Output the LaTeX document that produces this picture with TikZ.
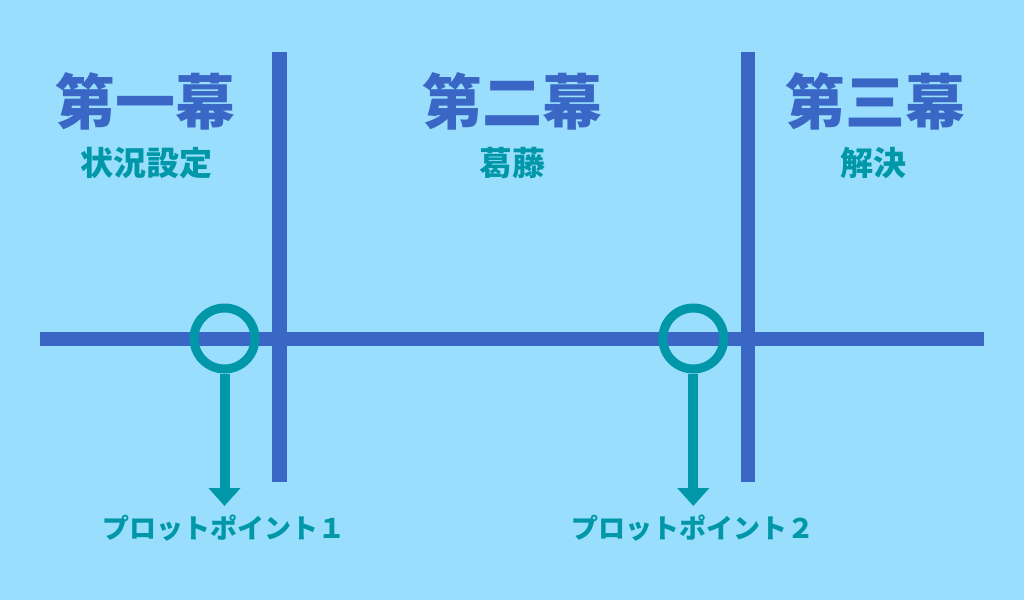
\documentclass[tikz,border=0pt]{standalone}
\usepackage{fontspec}
\setmainfont{Noto Sans CJK JP}[BoldFont={Noto Sans CJK JP Black}]
\usetikzlibrary{arrows.meta}
\definecolor{bgc}{HTML}{99DFFD}
\definecolor{lineblue}{HTML}{3A67C6}
\definecolor{tealc}{HTML}{0098A9}
\begin{document}
\begin{tikzpicture}[x=1pt,y=-1pt,
  axis/.style={draw=lineblue,line width=14.5pt},
  pp/.style={circle,draw=tealc,line width=9pt,minimum size=61pt,inner sep=0pt},
  stem/.style={draw=tealc,line width=10pt,-{Triangle[width=31pt,length=18pt]}},
  act/.style={font=\bfseries\fontsize{60}{60}\selectfont,text=lineblue,inner sep=0pt},
  sub/.style={font=\bfseries\fontsize{33}{33}\selectfont,text=tealc,inner sep=0pt},
  pplabel/.style={font=\bfseries\fontsize{27}{27}\selectfont,text=tealc,inner sep=0pt}]
\fill[bgc] (0,0) rectangle (1024,600);
\useasboundingbox (0,0) rectangle (1024,600);
% axes
\coordinate (hl) at (40,339);
\coordinate (hr) at (984,339);
\coordinate (v1t) at (279.5,52);
\coordinate (v1b) at (279.5,482);
\coordinate (v2t) at (748,52);
\coordinate (v2b) at (748,482);
\draw[axis] (hl) -- (hr);
\draw[axis] (v1t) -- (v1b);
\draw[axis] (v2t) -- (v2b);
% plot points
\node[pp] (c1) at (224.5,338.5) {};
\node[pp] (c2) at (693.3,338.5) {};
\coordinate (t1) at (224.5,506);
\coordinate (t2) at (693.3,506);
\draw[stem] (c1.south) -- (t1);
\draw[stem] (c2.south) -- (t2);
% titles
\node[act] (a1) at (145,101) {第一幕};
\node[act] (a2) at (512,101) {第二幕};
\node[act] (a3) at (875,101) {第三幕};
\node[sub] (s1) at (146,163) {状況設定};
\node[sub] (s2) at (512,163) {葛藤};
\node[sub] (s3) at (873,163) {解決};
\node[pplabel] (l1) at (224,528) {プロットポイント１};
\node[pplabel] (l2) at (693,528) {プロットポイント２};
\end{tikzpicture}
\end{document}
